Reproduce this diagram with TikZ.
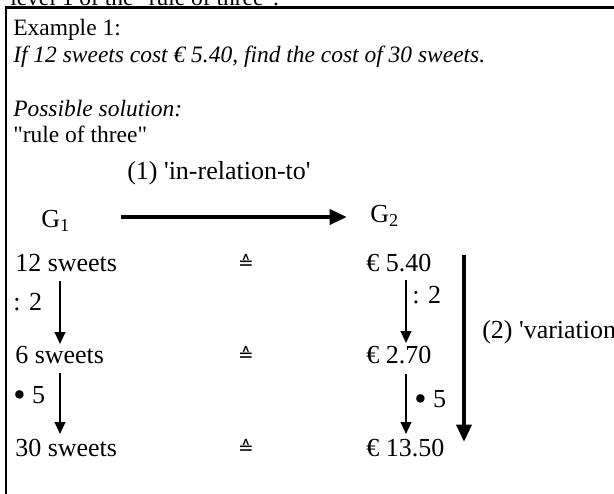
\documentclass[tikz,border=0pt]{standalone}
\usepackage{fontspec}
\usepackage{graphicx}
\setmainfont{Liberation Serif}
\newfontfamily\tnr{Liberation Serif}
\newfontfamily\symfnt{DejaVu Sans}
\newcommand{\bigbul}{\raisebox{-0.12em}{\scalebox{1.35}{•}}}
\usetikzlibrary{arrows.meta}
\begin{document}
\begin{tikzpicture}[x=0.75pt,y=-0.75pt,
  txt/.style={anchor=base west,inner sep=0pt,font=\tnr\fontsize{17.6}{21}\selectfont},
  dia/.style={anchor=base west,inner sep=0pt,font=\tnr\fontsize{19.5}{23}\selectfont},
  eqs/.style={anchor=base,inner sep=0pt,font=\symfnt\fontsize{14}{16}\selectfont},
  thinarrow/.style={line width=1.5pt,-{Triangle[length=9pt,width=8pt]}},
  thickarrow/.style={line width=3.7pt,-{Triangle[length=13pt,width=11pt]}}]
\useasboundingbox (0,0) rectangle (614,493);
\clip (0,0) rectangle (614,493);
\fill[white] (0,0) rectangle (614,493);
% frame
\draw[line width=1.9pt] (6,500) -- (6,7.5) -- (620,7.5);
% header texts
\node[txt] (cut) at (10,5) {level 1 of the "rule of three".};
\node[txt] (ex) at (13,35) {Example 1:};
\node[txt] (q) at (13,62) {\itshape If 12 sweets cost € 5.40, find the cost of 30 sweets.};
\node[txt] (ps) at (13,116) {\itshape Possible solution:};
\node[txt] (rt) at (13,142) {"rule of three"};
% G row
\node[dia] (rel) at (127,179) {(1) 'in-relation-to'};
\node[dia] (g1) at (41,227) {G\textsubscript{1}};
\node[dia] (g2) at (370,222) {G\textsubscript{2}};
\coordinate (h1) at (121,217);
\coordinate (h2) at (347,217);
\draw[thickarrow] (h1) -- (h2);
% rows
\node[dia] (l1) at (15,271) {12 sweets};
\node[dia] (l2) at (15,363) {6 sweets};
\node[dia] (l3) at (15,456) {30 sweets};
\node[eqs] (e1) at (246,269) {≙};
\node[eqs] (e2) at (246,361) {≙};
\node[eqs] (e3) at (246,454) {≙};
\node[dia] (r1) at (366,271) {€ 5.40};
\node[dia] (r2) at (366,363) {€ 2.70};
\node[dia] (r3) at (366,456) {€ 13.50};
% left arrows
\coordinate (la1) at (60,281);
\coordinate (lb1) at (60,344);
\coordinate (la2) at (60,373);
\coordinate (lb2) at (60,434);
\draw[thinarrow] (la1) -- (lb1);
\draw[thinarrow] (la2) -- (lb2);
\node[dia] (ld) at (13,310) {: 2};
\node[dia] (lm) at (13,403) {\bigbul\ 5};
% right arrows
\coordinate (ra1) at (406,280);
\coordinate (rb1) at (406,343);
\coordinate (ra2) at (406,374);
\coordinate (rb2) at (406,434);
\draw[thinarrow] (ra1) -- (rb1);
\draw[thinarrow] (ra2) -- (rb2);
\node[dia] (rd) at (412,303) {: 2};
\node[dia] (rm) at (414,407) {\bigbul\ 5};
% big variation arrow
\coordinate (v1) at (464,255);
\coordinate (v2) at (464,442);
\draw[thickarrow] (v1) -- (v2);
\node[dia] (var) at (482,338) {(2) 'variation'};
\end{tikzpicture}
\end{document}
